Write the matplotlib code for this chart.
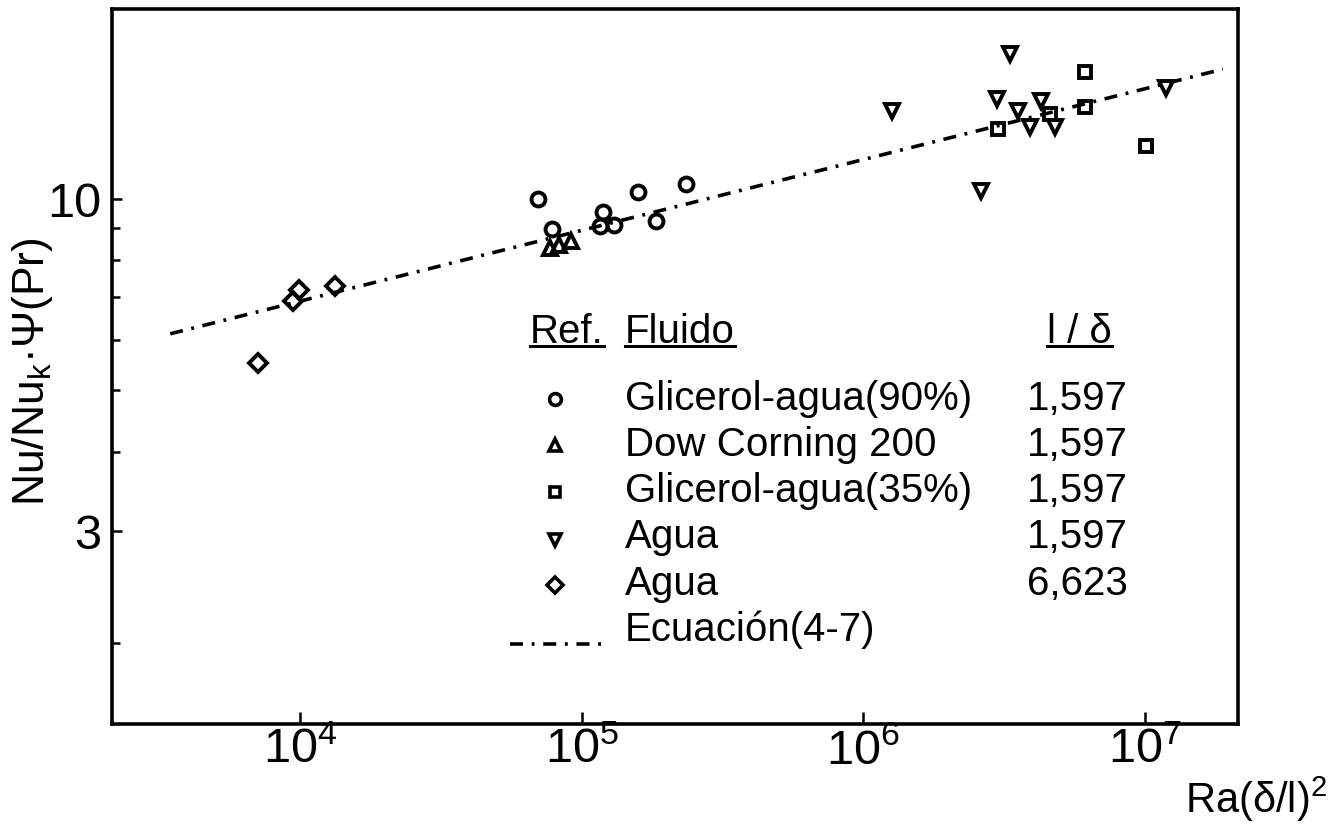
import matplotlib
matplotlib.use('Agg')
import matplotlib.pyplot as plt
from matplotlib import font_manager as fm
from matplotlib.lines import Line2D
from matplotlib.ticker import FixedLocator, FixedFormatter, NullLocator, NullFormatter

# ---------------- data ----------------
gli90_x = [6.97e4, 7.82e4, 1.19e5, 1.16e5, 1.30e5, 1.59e5, 1.84e5, 2.35e5]
gli90_y = [10.0, 8.97, 9.54, 9.07, 9.10, 10.26, 9.23, 10.56]
dow_x = [7.69e4, 8.34e4, 9.20e4]
dow_y = [8.37, 8.46, 8.59]
gli35_x = [3.02e6, 6.14e6, 6.14e6, 4.61e6, 1.01e7]
gli35_y = [12.89, 15.85, 13.96, 13.6, 12.12]
agua1_x = [3.33e6, 1.26e6, 2.99e6, 3.55e6, 3.92e6, 4.28e6, 4.80e6, 1.19e7, 2.62e6]
agua1_y = [16.9, 13.76, 14.37, 13.76, 12.98, 14.26, 12.98, 14.96, 10.29]
agua6_x = [7.10e3, 9.44e3, 9.92e3, 1.33e4]
agua6_y = [5.52, 6.91, 7.19, 7.30]
eq_x = [3.46e3, 1.89e7]
eq_y = [6.13, 16.0]

series_names = ["Glicerol-agua(90%)", "Dow Corning 200", "Glicerol-agua(35%)",
                "Agua", "Agua"]
ratio_labels = ["1,597", "1,597", "1,597", "1,597", "6,623"]
eq_label = "Ecuación(4-7)"
header_labels = ["Ref.", "Fluido", "l / δ"]

x_major = [1e4, 1e5, 1e6, 1e7]
x_major_labels = [r"$10^{4}$", r"$10^{5}$", r"$10^{6}$", r"$10^{7}$"]
y_major = [3, 10]
y_major_labels = ["3", "10"]
y_minor = [2, 4, 5, 6, 7, 8, 9]

# ---------------- fonts ----------------
def has_font(name):
    try:
        fm.findfont(fm.FontProperties(family=name), fallback_to_default=False)
        return True
    except Exception:
        return False

REG = "Liberation Sans" if has_font("Liberation Sans") else "DejaVu Sans"

plt.rcParams['font.family'] = [REG, 'DejaVu Sans']
plt.rcParams['mathtext.fontset'] = 'custom'
plt.rcParams['mathtext.rm'] = REG
plt.rcParams['mathtext.it'] = REG
plt.rcParams['mathtext.bf'] = REG

W, H = 1344, 829
fig = plt.figure(figsize=(W / 100, H / 100), dpi=100)
fig.patch.set_facecolor('white')

def fx(px):
    return px / W

def fy(py):
    return 1 - py / H

L, R, T, B = 112, 1238, 10, 725
ax = fig.add_axes([fx(L), fy(B), (R - L) / W, (B - T) / H])
ax.set_xscale('log')
ax.set_yscale('log')
ax.set_xlim(2150, 2.14e7)
ax.set_ylim(1.49, 19.9)

for s in ax.spines.values():
    s.set_linewidth(2.6)
    s.set_color('black')

ax.xaxis.set_major_locator(FixedLocator(x_major))
ax.xaxis.set_major_formatter(FixedFormatter(x_major_labels))
ax.xaxis.set_minor_locator(NullLocator())
ax.yaxis.set_major_locator(FixedLocator(y_major))
ax.yaxis.set_major_formatter(FixedFormatter(y_major_labels))
ax.yaxis.set_minor_locator(FixedLocator(y_minor))
ax.yaxis.set_minor_formatter(NullFormatter())

ax.tick_params(axis='x', which='major', direction='in', length=9, width=1.8,
               labelsize=35, pad=2)
ax.tick_params(axis='y', which='major', direction='in', length=7, width=1.8,
               labelsize=35, pad=8)
ax.tick_params(axis='y', which='minor', direction='in', length=6, width=1.8)

# ---------------- marks ----------------
mk = dict(linestyle='none', mfc='none', mec='black', mew=2.8, clip_on=False)
ax.plot(gli90_x, gli90_y, marker='o', ms=10, **mk)
ax.plot(dow_x, dow_y, marker='^', ms=10.5, **mk)
ax.plot(gli35_x, gli35_y, marker='s', ms=8.5, **mk)
ax.plot(agua1_x, agua1_y, marker='v', ms=10.5, **mk)
ax.plot(agua6_x, agua6_y, marker='D', ms=9, **mk)

DASH = (0, (3.6, 2.4, 0.8, 2.4))
ax.plot(eq_x, eq_y, color='black', lw=2.6, linestyle=DASH)

# ---------------- axis labels ----------------
fig.text(fx(33), fy(372), r"Nu/Nu$_{\mathrm{k}}$·Ψ(Pr)", rotation=90,
         ha='center', va='center', fontsize=32, family=[REG, 'DejaVu Sans'])
fig.text(fx(1185), fy(813), r"Ra(δ/l)$^{2}$", ha='left', va='baseline',
         fontsize=30, family=[REG, 'DejaVu Sans'])

# ---------------- legend (table-like) ----------------
FS = 29
hdr_y = 343
hdr_x = [530, 625, 1047]
hdr_texts = []
for hx, ht in zip(hdr_x, header_labels):
    hdr_texts.append(fig.text(fx(hx), fy(hdr_y), ht, ha='left', va='baseline',
                              fontsize=FS))

row_base = [410, 456, 502, 548, 595]
row_mark = [400, 446, 493, 541, 586]
leg_markers = ['o', '^', 's', 'v', 'D']
leg_ms = [8.5, 9, 7.5, 9, 8]
for name, ratio, yb, ym, m, ms in zip(series_names, ratio_labels, row_base,
                                       row_mark, leg_markers, leg_ms):
    fig.text(fx(625), fy(yb), name, ha='left', va='baseline', fontsize=FS)
    fig.text(fx(1128), fy(yb), ratio, ha='right', va='baseline', fontsize=FS)
    fig.add_artist(Line2D([fx(555)], [fy(ym)], marker=m, ms=ms, mfc='none',
                          mec='black', mew=2.6, linestyle='none',
                          transform=fig.transFigure))

fig.text(fx(625), fy(641), eq_label, ha='left', va='baseline', fontsize=FS)
fig.add_artist(Line2D([fx(510), fx(607)], [fy(645), fy(645)], color='black',
                      lw=2.6, linestyle=DASH, transform=fig.transFigure))

# underline headers
fig.canvas.draw()
renderer = fig.canvas.get_renderer()
for t in hdr_texts:
    bb = t.get_window_extent(renderer=renderer)
    yline = H - (hdr_y + 4)
    fig.add_artist(Line2D([bb.x0 / W, bb.x1 / W], [yline / H, yline / H],
                          color='black', lw=2.2, transform=fig.transFigure))

fig.savefig('out.png', dpi=100, facecolor='white')
